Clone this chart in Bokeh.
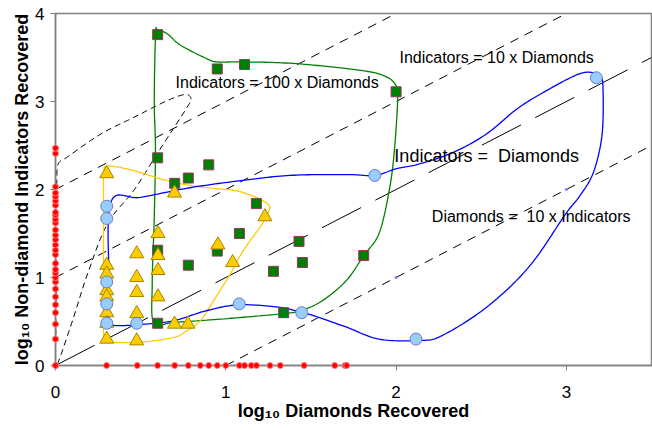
import numpy as np
from bokeh.plotting import figure
from bokeh.models import Range1d, Label, FixedTicker, Title
from bokeh.embed import file_html
from bokeh.resources import INLINE

# ---------------- data (log10 values) ----------------
# samples with no diamonds (on the y axis) and with no indicators (on the x axis)
red_axis_y = [0.0, 0.30, 0.47, 0.60, 0.69, 0.78, 0.87, 0.95, 1.0, 1.05, 1.09, 1.16,
              1.26, 1.31, 1.37, 1.43, 1.48, 1.54, 1.62, 1.66, 1.71, 1.74, 1.82,
              1.87, 1.92, 1.96, 2.03, 2.41, 2.47]
red_axis_x = [0.0, 0.30, 0.48, 0.60, 0.70, 0.78, 0.85, 0.90, 0.95, 1.0, 1.08, 1.11,
              1.15, 1.18, 1.26, 1.32, 1.46, 1.64, 1.70, 1.71]

blue_x = [0.301, 0.301, 0.301, 0.301, 0.301, 0.477, 1.079, 1.446, 1.875, 2.117, 3.176]
blue_y = [1.81, 1.67, 0.95, 0.70, 0.48, 0.48, 0.70, 0.60, 2.16, 0.30, 3.27]

green_x = [0.60, 0.95, 1.11, 2.00, 0.60, 0.90, 0.78, 0.70, 1.18, 1.08, 1.43, 0.60,
           0.95, 1.45, 0.78, 1.28, 1.81, 1.34, 0.60]
green_y = [3.76, 3.37, 3.42, 3.11, 2.36, 2.28, 2.13, 2.07, 1.84, 1.50, 1.41, 1.31,
           1.30, 1.17, 1.14, 1.07, 1.25, 0.60, 0.48]

yellow_x = [0.301, 0.301, 0.301, 0.301, 0.301, 0.301, 0.301, 0.301,
            0.477, 0.477, 0.477, 0.477, 0.477,
            0.602, 0.602, 0.602, 0.602,
            0.699, 0.699, 0.778, 0.954, 1.04, 1.23]
yellow_y = [2.18, 1.14, 1.04, 0.85, 0.78, 0.60, 0.48, 0.30,
            1.27, 1.00, 0.83, 0.59, 0.28,
            1.50, 1.25, 1.08, 0.78,
            1.96, 0.47, 0.47, 1.37, 1.17, 1.69]

# reference-line end points
line_100x_x = [0.0, 2.0]
line_100x_y = [2.0, 4.0]
line_10x_x = [0.0, 3.0]
line_10x_y = [1.0, 4.0]
line_eq_x = [0.0, 3.5]
line_eq_y = [0.0, 3.5]
line_d10_x = [1.0, 3.5]
line_d10_y = [0.0, 2.5]
line_d10_mark_x = [1.0, 2.0, 3.0]
line_d10_mark_y = [0.0, 1.0, 2.0]

# hand-drawn envelopes (outline points)
env_green_x = [0.601, 0.656, 0.734, 0.89, 0.952, 1.112, 1.416, 1.806, 1.943, 2.0, 2.01,
               1.99, 1.96, 1.90, 1.81, 1.71, 1.57, 1.445, 1.34, 0.99, 0.695, 0.578,
               0.568, 0.58, 0.587, 0.58, 0.588]
env_green_y = [3.81, 3.77, 3.64, 3.485, 3.45, 3.45, 3.43, 3.35, 3.28, 3.18, 3.05,
               2.44, 1.99, 1.50, 1.25, 0.97, 0.74, 0.625, 0.59, 0.53, 0.49, 0.48,
               0.93, 1.69, 2.44, 3.01, 3.77]

env_blue_x = [0.325, 0.5, 0.79, 1.085, 1.377, 1.71, 1.874, 2.0, 2.137, 2.333, 2.53,
              2.72, 2.917, 3.07, 3.15, 3.2, 3.215, 3.21, 3.16, 3.08, 2.995, 2.78,
              2.53, 2.27, 2.137, 1.90, 1.71, 1.51, 1.446, 1.32, 1.08, 0.89, 0.695,
              0.5, 0.344, 0.315, 0.315]
env_blue_y = [1.856, 1.91, 2.02, 2.10, 2.16, 2.17, 2.16, 2.235, 2.29, 2.42, 2.63,
              2.93, 3.16, 3.31, 3.33, 3.28, 3.16, 2.63, 2.20, 1.93, 1.72, 1.12,
              0.66, 0.34, 0.284, 0.30, 0.435, 0.57, 0.60, 0.66, 0.69, 0.625, 0.51,
              0.466, 0.455, 0.51, 0.93]

env_yellow_x = [0.30, 0.33, 0.46, 0.656, 0.85, 1.046, 1.14, 1.20, 1.254, 1.25, 1.20,
                1.104, 1.026, 0.93, 0.85, 0.76, 0.695, 0.5, 0.325, 0.29, 0.282,
                0.282, 0.282, 0.283]
env_yellow_y = [2.255, 2.265, 2.215, 2.10, 2.03, 1.99, 1.94, 1.89, 1.82, 1.74, 1.57,
                1.31, 1.04, 0.74, 0.51, 0.38, 0.32, 0.265, 0.265, 0.30, 0.40,
                0.93, 1.685, 2.20]

env_black_x = [0.0, 0.003, 0.005, 0.008, 0.016, 0.07, 0.266, 0.46, 0.656, 0.763,
               0.796, 0.773, 0.598, 0.46, 0.305, 0.188, 0.10, 0.013]
env_black_y = [0.0, 0.6, 1.4, 2.1, 2.29, 2.37, 2.63, 2.82, 3.01, 3.08,
               3.03, 2.935, 2.41, 1.99, 1.61, 1.04, 0.51, 0.02]


def smooth_closed(xs, ys, n=16):
    pts = np.column_stack([xs, ys]).astype(float)
    m = len(pts)
    out = []
    for i in range(m):
        p0, p1, p2, p3 = pts[(i - 1) % m], pts[i], pts[(i + 1) % m], pts[(i + 2) % m]
        for t in np.linspace(0, 1, n, endpoint=False):
            t2, t3 = t * t, t * t * t
            out.append(0.5 * ((2 * p1) + (-p0 + p2) * t + (2 * p0 - 5 * p1 + 4 * p2 - p3) * t2
                              + (-p0 + 3 * p1 - 3 * p2 + p3) * t3))
    out.append(out[0])
    out = np.array(out)
    return out[:, 0], out[:, 1]


FONT = "Liberation Sans"

p = figure(width=652, height=430, x_range=Range1d(0, 3.5), y_range=Range1d(0, 4),
           output_backend="svg", toolbar_location=None,
           min_border_left=55, min_border_right=1, min_border_top=13, min_border_bottom=65)
p.grid.visible = False
p.outline_line_color = "#808080"
p.outline_line_width = 1.5
p.background_fill_color = "white"
p.border_fill_color = "white"

for ax in (p.xaxis[0], p.yaxis[0]):
    ax.axis_line_color = "#808080"
    ax.axis_line_width = 1.5
    ax.major_tick_line_color = "#808080"
    ax.major_tick_line_width = 1
    ax.major_tick_out = 5
    ax.major_tick_in = 0
    ax.minor_tick_line_color = None
    ax.major_label_text_font = FONT
    ax.major_label_text_font_size = "17px"
    ax.major_label_text_color = "black"

p.xaxis.ticker = FixedTicker(ticks=[0, 1, 2, 3])
p.yaxis.ticker = FixedTicker(ticks=[0, 1, 2, 3, 4])
p.xaxis.major_label_standoff = 15
p.yaxis.major_label_standoff = 6
p.xaxis.axis_label = "log\u2081\u2080 Diamonds Recovered"
p.xaxis.axis_label_text_font = FONT
p.xaxis.axis_label_text_font_size = "18px"
p.xaxis.axis_label_text_font_style = "bold"
p.xaxis.axis_label_text_color = "black"
p.xaxis.axis_label_standoff = 0

# y axis title (as a side title so it can be shifted along the axis)
p.add_layout(Title(text="log\u2081\u2080 Non-diamond Indicators Recovered", align="center",
                   offset=-26, standoff=2, text_font=FONT, text_font_size="18px",
                   text_font_style="bold", text_color="black"), "left")

# reference lines
p.line(line_100x_x, line_100x_y, line_color="black", line_width=1, line_dash="9 7")
p.line(line_10x_x, line_10x_y, line_color="black", line_width=1, line_dash="9 7")
p.line(line_d10_x, line_d10_y, line_color="black", line_width=1, line_dash="9 7")
p.line(line_eq_x, line_eq_y, line_color="black", line_width=1, line_dash="44 16")
p.scatter(line_d10_mark_x, line_d10_mark_y, size=3, marker="circle",
          fill_color="#8080ff", line_color=None)

# envelopes
bx, by = smooth_closed(env_black_x, env_black_y)
p.line(bx, by, line_color="black", line_width=1, line_dash="6 4")
gx, gy = smooth_closed(env_green_x, env_green_y)
p.line(gx, gy, line_color="#008000", line_width=1.3)
yx, yy = smooth_closed(env_yellow_x, env_yellow_y)
p.line(yx, yy, line_color="#ffcc00", line_width=1.3)
ux, uy = smooth_closed(env_blue_x, env_blue_y)
p.line(ux, uy, line_color="#0000ff", line_width=1.3)

# annotations
NB = "\u00a0"
for txt, x, y, size in [("Indicators = 10 x Diamonds", 2.02, 3.497, "16px"),
                        ("Indicators = 100 x Diamonds", 0.705, 3.22, "16px"),
                        ("Indicators =" + NB + " Diamonds", 1.99, 2.386, "18px"),
                        ("Diamonds =" + NB + " 10 x Indicators", 2.21, 1.693, "16px")]:
    p.add_layout(Label(x=x, y=y, text=txt, text_font=FONT, text_font_size=size,
                       text_color="black", text_align="left", text_baseline="alphabetic"))

# markers
p.scatter(green_x, green_y, marker="square", size=10, fill_color="#008000",
          line_color="#993366", line_width=1)
p.scatter(yellow_x, yellow_y, marker="triangle", size=14, fill_color="#ffcc00",
          line_color="#a08800", line_width=1)
p.scatter(blue_x, blue_y, marker="circle", size=12, fill_color="#99ccff",
          line_color="#6680c0", line_width=1)
p.scatter([0.0] * len(red_axis_y), red_axis_y, marker="circle", size=6,
          fill_color="#ff0000", line_color="#ff8080", line_width=1, level="overlay")
p.scatter(red_axis_x, [0.0] * len(red_axis_x), marker="circle", size=6,
          fill_color="#ff0000", line_color="#ff8080", line_width=1, level="overlay")

open("out.html", "w").write(file_html(p, INLINE))
